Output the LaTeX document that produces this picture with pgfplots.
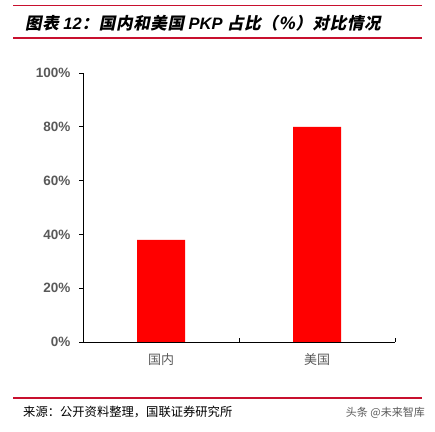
\documentclass[border=0pt]{standalone}
\usepackage{pgfplots}
\pgfplotsset{compat=1.18}
\usepackage{fontspec}
\setmainfont{Liberation Sans}
\newfontfamily\cjk{Noto Sans CJK SC}
\newfontfamily\cjkslant{Noto Sans CJK SC}[FakeSlant=0.2, LetterSpace=4]
\definecolor{titlered}{HTML}{C8102E}
\definecolor{labgray}{HTML}{595959}
\begin{document}
\begin{tikzpicture}
\path[use as bounding box] (0,0) rectangle (435bp,432bp);
% header
\draw[titlered, line width=1.2bp] (13bp,426.3bp) -- (422bp,426.3bp);
\draw[titlered, line width=1.2bp] (13bp,394bp) -- (422bp,394bp);
\node[anchor=west, inner sep=0] at (25bp,409bp)
  {\fontsize{16.5bp}{18bp}\selectfont\cjkslant\bfseries 图表{\normalfont\bfseries\itshape\ 12}：国内和美国{\normalfont\bfseries\itshape\ PKP\ }占比（\%）对比情况};
% footer
\draw[titlered, line width=1.2bp] (13bp,34bp) -- (422bp,34bp);
\node[anchor=west, inner sep=0] at (23bp,20bp)
  {\fontsize{12.3bp}{14bp}\selectfont\cjk 来源：公开资料整理，国联证券研究所};
\node[anchor=east, inner sep=0, text=labgray] at (425bp,19bp)
  {\fontsize{11bp}{13bp}\selectfont\cjk 头条 @未来智库};
\begin{axis}[
  at={(83bp,90bp)}, anchor=south west,
  scale only axis, width=312bp, height=269bp,
  xmin=0, xmax=2, ymin=0, ymax=100,
  ybar, bar width=48bp,
  axis x line*=bottom, axis y line*=left,
  axis line style={-, black, line width=0.9bp},
  every tick/.style={black, line width=0.9bp},
  major tick length=4bp,
  ytick={0,20,...,100},
  yticklabel={\pgfmathprintnumber{\tick}\%},
  ytick align=outside,
  xtick={0,1,2}, xticklabels={},
  xtick align=inside,
  extra x ticks={0.5,1.5},
  extra x tick labels={国内,美国},
  extra x tick style={major tick length=0pt,
    xticklabel style={font=\fontsize{13bp}{15bp}\selectfont\cjk, text=labgray, yshift=-8bp}},
  /pgf/number format/assume math mode=true,
  yticklabel style={font=\fontsize{13.5bp}{15bp}\selectfont\bfseries, text=labgray, xshift=-5bp},
]
\addplot[fill=red, draw=none] coordinates {(0.5,38) (1.5,80)};
\end{axis}
\end{tikzpicture}
\end{document}
